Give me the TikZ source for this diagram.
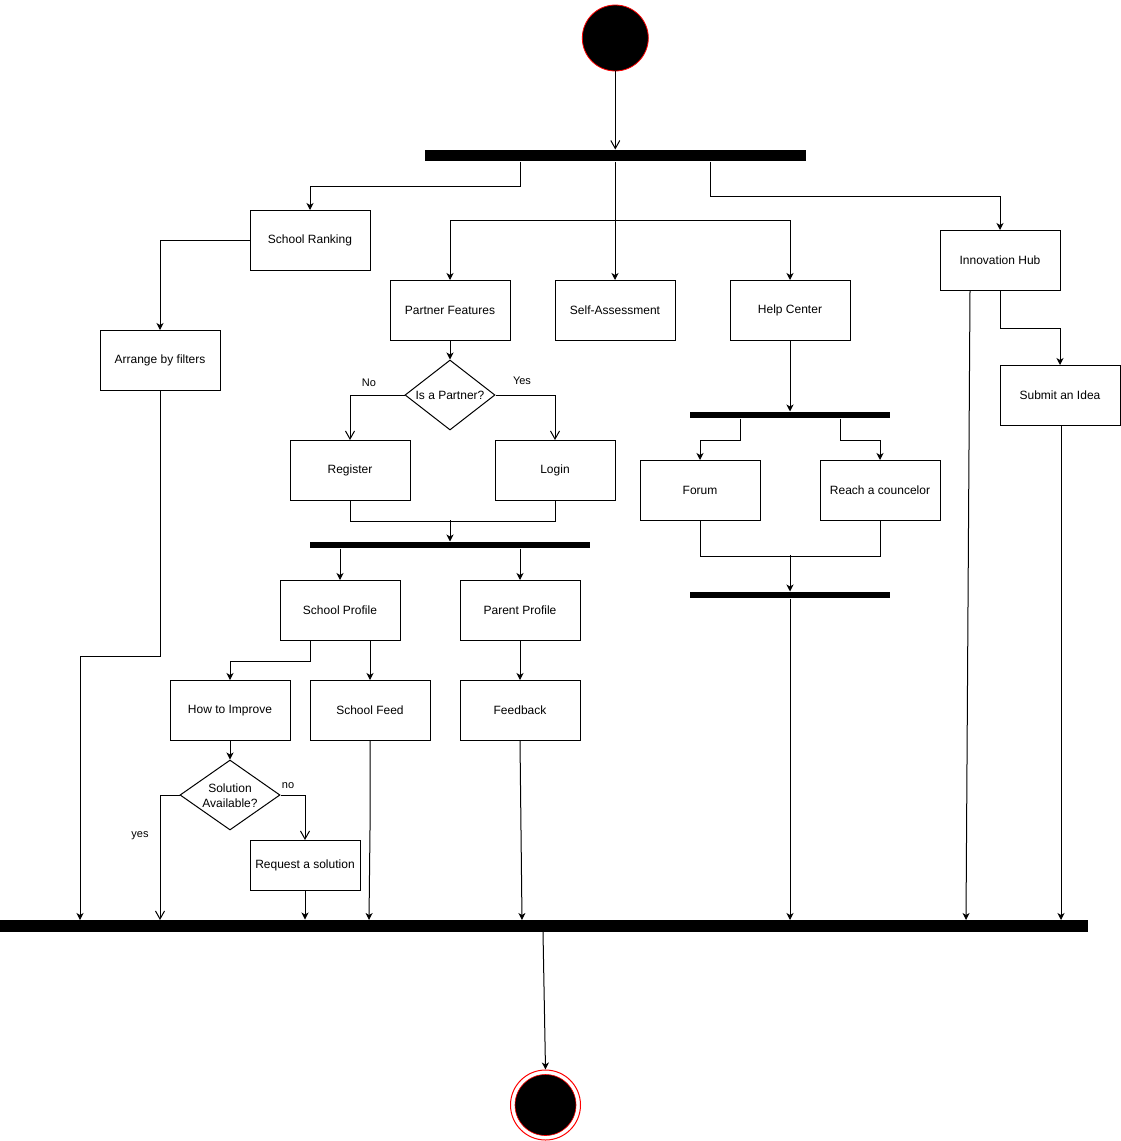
\documentclass[tikz,border=0pt]{standalone}
\usepackage{fontspec}
\setmainfont{Liberation Sans}
\usetikzlibrary{arrows.meta,shapes.geometric,calc}
\begin{document}
\begin{tikzpicture}[x=1pt,y=-1pt,
  line width=1pt,
  box/.style={draw, line width=1pt, minimum width=120pt, minimum height=60pt, inner sep=0pt, font=\fontsize{12}{14}\selectfont, align=center},
  bar/.style={fill=black, draw=none, inner sep=0pt},
  dia/.style={draw, diamond, line width=1pt, inner sep=0pt},
  diatext/.style={font=\fontsize{12}{15}\selectfont, align=center, inner sep=0pt},
  lbl/.style={font=\fontsize{11}{13}\selectfont, inner sep=0pt},
  farr/.style={-{Stealth[length=7pt,width=7pt,inset=2pt]}},
  oarr/.style={-{Straight Barb[length=8pt,width=9pt,line width=1pt]}}
]
\useasboundingbox (0,0) rectangle (1121,1141);

% start and end
\node[circle, fill=black, draw=red, line width=0.8pt, minimum size=66pt, inner sep=0pt] (start) at (615.3,38) {};
\node[circle, fill=white, draw=red, line width=1pt, minimum size=70pt, inner sep=0pt] (endc) at (545.5,1105) {};
\node[circle, fill=black, draw=red, line width=0.6pt, minimum size=61pt, inner sep=0pt] (endi) at (545.5,1105) {};

% bars
\node[bar, minimum width=381pt, minimum height=11pt] (bar1) at (615.5,155.5) {};
\node[bar, minimum width=280pt, minimum height=6pt] (bar2) at (450,545) {};
\node[bar, minimum width=200pt, minimum height=6pt] (bar3) at (790,415) {};
\node[bar, minimum width=200pt, minimum height=6pt] (bar4) at (790,595) {};
\node[bar, minimum width=1088pt, minimum height=11.5pt] (bot) at (544,925.75) {};

% boxes
\node[box] (sr) at (310,240.5) {School Ranking};
\node[box] (af) at (160,360.5) {Arrange by filters};
\node[box] (pf) at (450,310.5) {Partner Features};
\node[box] (sa) at (615,310.5) {Self-Assessment};
\node[box] (hc) at (790,310.5) {Help Center};
\node[box] (ih) at (1000,260.5) {Innovation Hub};
\node[box] (si) at (1060,395.5) {Submit an Idea};
\node[box] (reg) at (350,470.5) {Register};
\node[box] (log) at (555,470.5) {Login};
\node[box] (fo) at (700,490.5) {Forum};
\node[box] (rc) at (880,490.5) {Reach a councelor};
\node[box] (spr) at (340,610.5) {School Profile};
\node[box] (ppr) at (520,610.5) {Parent Profile};
\node[box] (hti) at (230,710.5) {How to Improve};
\node[box] (sf) at (370,710.5) {School Feed};
\node[box] (fb) at (520,710.5) {Feedback};
\node[box, minimum width=110pt, minimum height=50pt] (rq) at (305,865.5) {Request a solution};

% decisions
\node[dia, minimum width=90pt, minimum height=70pt] (d1) at (450,395) {};
\node[diatext] (d1t) at (450,395) {Is a Partner?};
\node[dia, minimum width=100pt, minimum height=70pt] (d2) at (230,795) {};
\node[diatext] (d2t) at (230,795.5) {Solution\\Available?};

% labels
\node[lbl] (lno) at (369,383) {No};
\node[lbl] (lyes) at (522,381) {Yes};
\node[lbl] (lyes2) at (140,836) {yes};
\node[lbl] (lno2) at (288,786) {no};

% helper coordinates
\coordinate (j1) at (615,220);
\coordinate (j2) at (450,520);
\coordinate (j3) at (790,555);
\coordinate (e1) at (80,920);
\coordinate (e2) at (160,920);
\coordinate (e3) at (369,920);
\coordinate (e4) at (522,920);
\coordinate (e5) at (790,920);
\coordinate (e6) at (966,920);
\coordinate (e7) at (1061,920);
\coordinate (k1) at (370,830);

% connectors
\draw[oarr] (start.south) -- (start.south |- bar1.north);
\draw[farr] ([xshift=-95.5pt]bar1.south) -- ++(0,25) -| (sr.north);
\draw[farr] (bar1.south -| sa.north) -- (sa.north);
\draw[farr] (j1) -| (pf.north);
\draw[farr] (j1) -| (hc.north);
\draw[farr] ([xshift=94.5pt]bar1.south) -- ++(0,35) -| (ih.north);
\draw[farr] (ih.south) -- ++(0,37) -| (si.north);
\draw[farr] (sr.west) -| (af.north);
\draw[farr] (af.south) -- ++(0,265) -| (e1);
\draw[farr] (pf.south) -- (d1.north);
\draw[oarr] (d1.west) -| (reg.north);
\draw[oarr] (d1.east) -| (log.north);
\draw (reg.south) -- ++(0,20) -| (log.south);
\draw[farr] (j2) -- (bar2.north);
\draw[farr] (bar2.south -| spr.north) -- (spr.north);
\draw[farr] (bar2.south -| ppr.north) -- (ppr.north);
\draw[farr] ([xshift=-30pt]spr.south) -- ++(0,20) -| (hti.north);
\draw[farr] ([xshift=30pt]spr.south) -- (sf.north);
\draw[farr] (ppr.south) -- (fb.north);
\draw[farr] (hti.south) -- (d2.north);
\draw[oarr] (d2.west) -| (e2);
\draw[oarr] (d2.east) -| (rq.north);
\draw[farr] (rq.south) -- (rq.south |- bot.north);
\draw[farr] (sf.south) -- (k1) -- (e3);
\draw[farr] (fb.south) -- (e4);
\draw[farr] (hc.south) -- (bar3.north);
\draw[farr] ([xshift=-50pt]bar3.south) -- ++(0,22) -| (fo.north);
\draw[farr] ([xshift=50pt]bar3.south) -- ++(0,22) -| (rc.north);
\draw (fo.south) -- ++(0,35) -| (rc.south);
\draw[farr] (j3) -- (bar4.north);
\draw[farr] (bar4.south) -- (e5);
\draw[farr] ([xshift=-30pt]ih.south) -- (e6);
\draw[farr] ([xshift=1pt]si.south) -- (e7);
\draw[farr] ([xshift=-1pt]bot.south) -- (endc.north);
\end{tikzpicture}
\end{document}
